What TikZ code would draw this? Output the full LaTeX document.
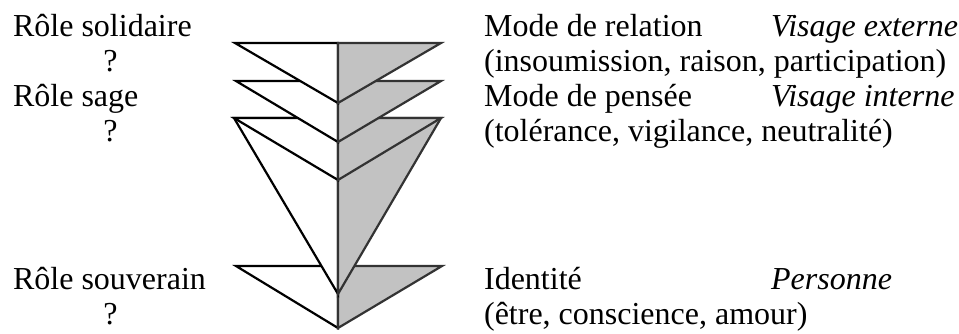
\documentclass[tikz,border=0pt]{standalone}
\usepackage{fontspec}
\setmainfont{Liberation Serif}
\definecolor{shade}{gray}{0.76}
\begin{document}
\begin{tikzpicture}[x=1pt,y=-1pt,line width=2.2pt,line join=miter,
  txt/.style={inner sep=0pt,anchor=base west,font=\fontsize{32}{35}\selectfont},
  ask/.style={inner sep=0pt,anchor=base,font=\fontsize{32}{35}\selectfont},
  half/.style={draw=black,fill=white},
  grey/.style={draw=black!80,fill=shade}]
\useasboundingbox (0,0) rectangle (959,333);
% bottom triangle (Identite)
\filldraw[half] (236,266)--(338,266)--(338,328)--cycle;
\filldraw[grey] (338,266)--(442,266)--(338,328)--cycle;
% long triangle
\filldraw[half] (234,118)--(338,118)--(338,294)--cycle;
\filldraw[grey] (338,118)--(441,118)--(338,294)--cycle;
% third triangle
\filldraw[half] (234,118)--(338,118)--(338,180)--cycle;
\filldraw[grey] (338,118)--(441,118)--(338,180)--cycle;
% second triangle
\filldraw[half] (236,81)--(338,81)--(338,142)--cycle;
\filldraw[grey] (338,81)--(441,81)--(338,142)--cycle;
% top triangle
\filldraw[half] (235,43)--(338,43)--(338,103)--cycle;
\filldraw[grey] (338,43)--(441,43)--(338,103)--cycle;
% left column
\node[txt] (solidaire) at (12,36) {Rôle solidaire};
\node[ask] (q1) at (110.5,71) {?};
\node[txt] (sage) at (12,106) {Rôle sage};
\node[ask] (q2) at (110.5,141) {?};
\node[txt] (souverain) at (12,289) {Rôle souverain};
\node[ask] (q3) at (110.5,324) {?};
% right column
\node[txt] (relation) at (483,36) {Mode de relation};
\node[txt] (externe) at (770,36) {\itshape Visage externe};
\node[txt] (insoum) at (483,71) {(insoumission, raison, participation)};
\node[txt] (pensee) at (483,106) {Mode de pensée};
\node[txt] (interne) at (770,106) {\itshape Visage interne};
\node[txt] (tolerance) at (483,141) {(tolérance, vigilance, neutralité)};
\node[txt] (identite) at (483,289) {Identité};
\node[txt] (personne) at (770,289) {\itshape Personne};
\node[txt] (etre) at (483,324) {(être, conscience, amour)};
\end{tikzpicture}
\end{document}
